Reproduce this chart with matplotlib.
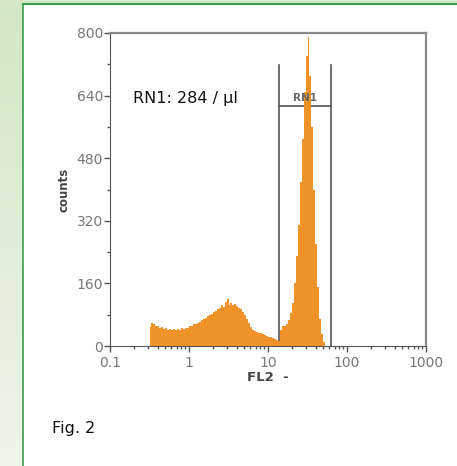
import matplotlib.pyplot as plt
import numpy as np
from matplotlib.colors import LinearSegmentedColormap

# FL2 histogram, log10 channel range of the filled bins
log_lo, log_hi = -0.5, 1.75
counts = [
    48, 58, 55, 52, 50, 47, 48, 44, 46, 42,
    44, 41, 43, 40, 44, 42, 45, 43, 47, 46,
    50, 52, 55, 56, 60, 62, 66, 70, 72, 76,
    80, 82, 86, 90, 95, 97, 104, 100, 112, 120,
    106, 110, 104, 108, 102, 98, 94, 86, 78, 70,
    58, 48, 42, 38, 36, 34, 32, 30, 28, 26,
    24, 22, 20, 18, 16, 14, 40, 50, 52, 56,
    66, 84, 110, 160, 230, 310, 420, 530, 650, 740,
    790, 690, 560, 400, 260, 150, 70, 30, 10, 0,
]
gate_lo, gate_hi = 13.8, 62.7
gate_top, gate_bar = 718, 613
gate_name = 'RN1'
x_ticks = [0.1, 1, 10, 100, 1000]
x_ticklabels = ['0.1', '1', '10', '100', '1000']
y_ticks = [0, 160, 320, 480, 640, 800]

W, H = 457, 466
fig = plt.figure(figsize=(W / 100, H / 100), dpi=100)

# green page background on the left and top
bg = fig.add_axes([0, 0, 22.5 / W, 1])
green = LinearSegmentedColormap.from_list('g', ['#eef5e9', '#d2e7c5'])
bg.imshow(np.linspace(0, 1, 100).reshape(-1, 1), aspect='auto', cmap=green,
          origin='lower', extent=[0, 1, 0, 1])
bg.set_axis_off()
top = fig.add_axes([0, 1 - 4 / H, 1, 4 / H])
top.set_facecolor('#d4e8c8')
top.set_xticks([]); top.set_yticks([])
for s in top.spines.values():
    s.set_visible(False)
fig.add_artist(plt.Line2D([22.5 / W, 22.5 / W], [0, 1 - 4 / H], color='#3d9b52', lw=1.2))
fig.add_artist(plt.Line2D([22.5 / W, 1], [1 - 4 / H, 1 - 4 / H], color='#3d9b52', lw=1.5))

ax = fig.add_axes([110 / W, 1 - 346 / H, 316 / W, 313 / H])
edges = np.logspace(log_lo, log_hi, len(counts) + 1)
ax.stairs(counts, edges, fill=True, color='#ef9329', zorder=3)

# gate
ax.plot([gate_lo, gate_lo], [0, gate_top], color='#555555', lw=1.2, zorder=2)
ax.plot([gate_hi, gate_hi], [0, gate_top], color='#555555', lw=1.2, zorder=2)
ax.plot([gate_lo, gate_hi], [gate_bar, gate_bar], color='#555555', lw=1.2, zorder=2)
ax.text(np.sqrt(gate_lo * gate_hi), gate_bar + 8, gate_name, ha='center', va='bottom',
        fontsize=7.5, fontweight='bold', color='#666666', zorder=4)

ax.set_xscale('log')
ax.set_xlim(0.1, 1000)
ax.set_ylim(0, 800)
ax.set_xticks(x_ticks)
ax.set_xticklabels(x_ticklabels)
ax.set_yticks(y_ticks)
ax.set_yticks([80, 240, 400, 560, 720], minor=True)
ax.tick_params(axis='both', which='major', labelsize=10, labelcolor='#777777',
               color='#555555', length=4, width=1, direction='out')
ax.tick_params(axis='both', which='minor', color='#555555', length=2.5, width=1,
               direction='out')
ax.tick_params(axis='x', which='major', pad=3)
ax.tick_params(axis='y', pad=1)

ax.spines['left'].set_color('#555555')
ax.spines['bottom'].set_color('#555555')
ax.spines['top'].set_color('#8a8a8a')
ax.spines['right'].set_color('#8a8a8a')
ax.spines['top'].set_linewidth(1.6)
ax.spines['right'].set_linewidth(1.6)

ax.set_ylabel('counts', fontsize=8.5, fontweight='bold', color='#444444', labelpad=4)
ax.set_xlabel('FL2  -', fontsize=9.5, fontweight='bold', color='#444444', labelpad=1)

ax.text(0.072, 0.79, 'RN1: 284 / µl', transform=ax.transAxes, fontsize=11.5,
        color='#111111', va='center', ha='left')
fig.text(52 / W, 1 - 428 / H, 'Fig. 2', fontsize=11.5, color='#111111', va='center', ha='left')

fig.savefig('out.png', dpi=100)
